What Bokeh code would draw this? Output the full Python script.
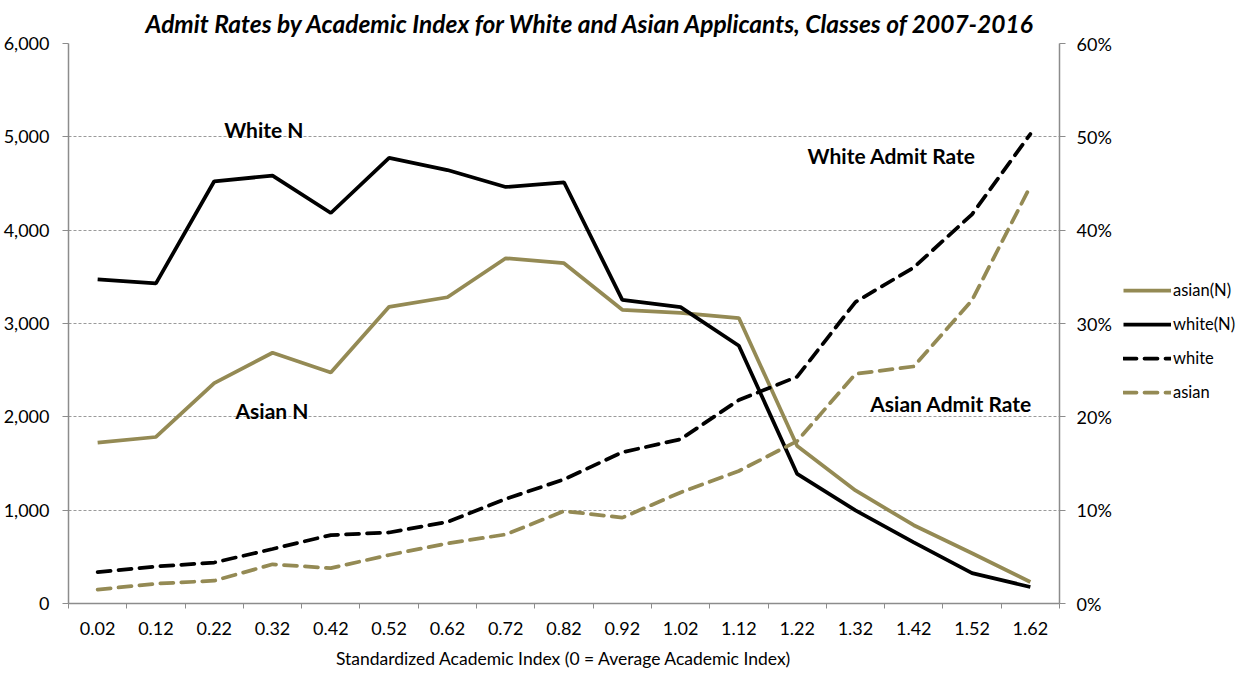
import numpy as np
from bokeh.plotting import figure
from bokeh.layouts import row
from bokeh.models import (Range1d, LinearAxis, FixedTicker, NumeralTickFormatter,
                          Legend, LegendItem, Label)
from bokeh.embed import file_html
from bokeh.resources import INLINE

categories = ["0.02", "0.12", "0.22", "0.32", "0.42", "0.52", "0.62", "0.72", "0.82",
              "0.92", "1.02", "1.12", "1.22", "1.32", "1.42", "1.52", "1.62"]
asian_n = [1724, 1784, 2361, 2687, 2474, 3179, 3281, 3699, 3646, 3147, 3115, 3058,
           1688, 1211, 839, 538, 230]
white_n = [3472, 3430, 4524, 4584, 4184, 4775, 4644, 4463, 4513, 3253, 3175, 2761,
           1388, 998, 655, 326, 177]
white_rate = [0.0337, 0.0396, 0.0439, 0.0584, 0.0733, 0.0761, 0.0874, 0.112, 0.133,
              0.162, 0.176, 0.218, 0.243, 0.323, 0.360, 0.417, 0.503]
asian_rate = [0.0149, 0.0212, 0.0244, 0.042, 0.0379, 0.052, 0.0644, 0.074, 0.099,
              0.092, 0.119, 0.142, 0.174, 0.246, 0.254, 0.325, 0.447]
left_ticks = [0, 1000, 2000, 3000, 4000, 5000, 6000]
right_ticks = [0, 0.1, 0.2, 0.3, 0.4, 0.5, 0.6]
series_labels = ["asian(N)", "white(N)", "white", "asian"]

OLIVE = "#948A54"
GRAY = "#8C8C8C"
FONT = "Lato"
LW = 3.75
DASH = "13 8"
styles = [dict(line_color=OLIVE, line_width=LW),
          dict(line_color="black", line_width=LW),
          dict(line_color="black", line_width=LW, line_dash=DASH, line_cap="round"),
          dict(line_color=OLIVE, line_width=LW, line_dash=DASH, line_cap="round")]

x = list(range(len(categories)))
series_y = [asian_n, white_n, white_rate, asian_rate]

p = figure(width=1114, height=671, output_backend="svg", toolbar_location=None,
           x_range=Range1d(-0.5, len(categories) - 0.5), y_range=Range1d(0, 6000),
           min_border=0)
p.extra_y_ranges = {"rate": Range1d(0, 0.6)}
p.outline_line_color = None
p.background_fill_color = "white"
p.border_fill_color = "white"

p.title.text = "Admit Rates by Academic Index for White and Asian Applicants, Classes of 2007-2016"
p.title.text_font = FONT
p.title.text_font_style = "bold italic"
p.title.text_font_size = "24.5px"
p.title.text_color = "black"
p.title.align = "left"
p.title.offset = 77
p.title.standoff = 12

# x axis
xa = p.xaxis[0]
xa.ticker = FixedTicker(ticks=x, minor_ticks=[i - 0.5 for i in range(len(categories) + 1)])
xa.major_label_overrides = {i: c for i, c in enumerate(categories)}
xa.major_tick_out = 0
xa.major_tick_in = 0
xa.minor_tick_out = 5
xa.minor_tick_in = 0
xa.minor_tick_line_color = GRAY
xa.axis_line_color = GRAY
xa.axis_line_width = 1.5
xa.major_label_text_font = FONT
xa.major_label_text_font_size = "18px"
xa.major_label_text_color = "black"
xa.major_label_standoff = 13
xa.axis_label = "Standardized Academic Index (0 = Average Academic Index)"
xa.axis_label_text_font = FONT
xa.axis_label_text_font_size = "17.5px"
xa.axis_label_text_font_style = "normal"
xa.axis_label_text_color = "black"
xa.axis_label_standoff = 10

# left axis
ya = p.yaxis[0]
ya.ticker = FixedTicker(ticks=left_ticks)
ya.formatter = NumeralTickFormatter(format="0,0")
ya.major_tick_out = 6
ya.major_tick_in = 0
ya.minor_tick_out = 0
ya.minor_tick_in = 0
ya.major_tick_line_color = GRAY
ya.axis_line_color = GRAY
ya.axis_line_width = 1.5
ya.major_label_text_font = FONT
ya.major_label_text_font_size = "18px"
ya.major_label_text_color = "black"
ya.major_label_standoff = 13

# right axis
ra = LinearAxis(y_range_name="rate", ticker=FixedTicker(ticks=right_ticks),
                formatter=NumeralTickFormatter(format="0%"))
ra.major_tick_out = 6
ra.major_tick_in = 0
ra.minor_tick_out = 0
ra.minor_tick_in = 0
ra.major_tick_line_color = GRAY
ra.axis_line_color = GRAY
ra.axis_line_width = 1.5
ra.major_label_text_font = FONT
ra.major_label_text_font_size = "18px"
ra.major_label_text_color = "black"
ra.major_label_standoff = 11
p.add_layout(ra, "right")

p.xgrid.grid_line_color = None
p.ygrid.ticker = FixedTicker(ticks=left_ticks)
p.ygrid.grid_line_color = "#9A9A9A"
p.ygrid.grid_line_dash = "3 2"
p.ygrid.grid_line_width = 1

p.line(x, asian_n, **styles[0])
p.line(x, white_n, **styles[1])
p.line(x, white_rate, y_range_name="rate", **styles[2])
p.line(x, asian_rate, y_range_name="rate", **styles[3])

for txt, tx, ty, rng in [("White N", 2.85, 5076, "default"),
                         ("Asian N", 2.99, 2071, "default"),
                         ("White Admit Rate", 13.62, 0.48, "rate"),
                         ("Asian Admit Rate", 14.64, 0.2145, "rate")]:
    p.add_layout(Label(x=tx, y=ty, text=txt, y_range_name=rng, text_font=FONT,
                       text_font_style="bold", text_font_size="21px",
                       text_color="black",
                       text_align="center", text_baseline="middle"))

# legend panel: separate figure to the right, no axes; its ranges show no data,
# so only the legend's glyph samples are visible
lg = figure(width=125, height=671, output_backend="svg", toolbar_location=None,
            x_range=Range1d(-100, -99), y_range=Range1d(-100, -99), min_border=0,
            x_axis_location=None, y_axis_location=None)
lg.outline_line_color = None
lg.xgrid.grid_line_color = None
lg.ygrid.grid_line_color = None
items = []
for lab, st, ys in zip(series_labels, styles, series_y):
    r = lg.line(x, ys, **st)
    items.append(LegendItem(label=lab, renderers=[r]))
legend = Legend(items=items, location=(9, 201))
legend.glyph_width = 48
legend.glyph_height = 20
legend.label_height = 20
legend.label_standoff = 2
legend.spacing = 14
legend.padding = 2
legend.margin = 0
legend.border_line_color = None
legend.background_fill_alpha = 0
legend.label_text_font = FONT
legend.label_text_font_size = "16.5px"
legend.label_text_color = "black"
lg.add_layout(legend, "center")

open("out.html", "w").write(file_html(row(p, lg), INLINE))
